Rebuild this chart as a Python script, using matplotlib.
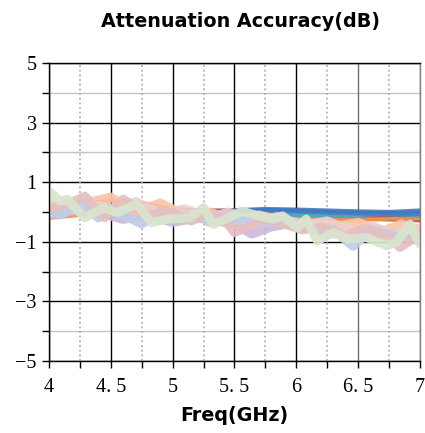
import matplotlib.pyplot as plt
from matplotlib.ticker import MultipleLocator, FixedLocator

# frequency grid shared by the narrow traces (GHz)
freq = [4.0, 4.25, 4.5, 4.75, 5.0, 5.25, 5.5, 5.75, 6.0, 6.25, 6.5, 6.75, 7.0]

# narrow traces, attenuation error in dB
thin_red = [-0.2, 0.25, 0.4, 0.3, 0.1, 0.05, 0.05, 0.05, 0.02, -0.05, -0.1, -0.1, -0.05]
thin_blue = [-0.05, 0.05, 0.1, 0.0, 0.0, 0.0, 0.06, 0.1, 0.08, 0.05, 0.02, 0.0, 0.05]
thin_orange = [-0.2, -0.1, -0.05, -0.1, -0.1, -0.15, -0.15, -0.2, -0.22, -0.25, -0.28, -0.22, -0.2]
thin_green = [0.0, 0.05, 0.0, -0.05, -0.1, -0.1, -0.1, -0.05, -0.1, -0.12, -0.15, -0.1, -0.12]
thin_purple = [-0.1, 0.0, 0.05, -0.05, -0.1, -0.05, -0.1, -0.12, -0.15, -0.18, -0.2, -0.22, -0.15]
thin_cyan = [0.05, 0.1, 0.15, 0.05, 0.0, -0.05, 0.0, 0.0, -0.05, -0.08, -0.1, -0.05, -0.05]
thin_steel = [0.0, 0.1, 0.15, 0.1, 0.05, 0.02, 0.0, 0.05, 0.02, -0.02, -0.05, -0.08, -0.08]
thin_olive = [-0.1, -0.05, 0.0, -0.05, -0.05, -0.1, -0.05, -0.08, -0.12, -0.1, -0.12, -0.15, -0.12]
thin_navy = [0.1, 0.15, 0.2, 0.1, 0.02, 0.0, 0.03, 0.07, 0.04, 0.0, -0.03, -0.05, -0.02]
thin_brown = [-0.15, -0.05, 0.1, 0.0, -0.05, -0.08, -0.08, -0.12, -0.15, -0.2, -0.22, -0.25, -0.28]

# wide traces, each with its own sample points
lav_f = [4.0, 4.3, 4.6, 4.8, 5.0, 5.2, 5.5, 5.64, 5.8, 6.0, 6.2, 6.5, 6.8, 7.0]
lav_v = [-0.1, 0.1, -0.25, -0.1, -0.35, -0.2, -0.4, -0.74, -0.5, -0.35, -0.7, -0.8, -0.7, -0.9]

peach_f = [4.0, 4.3, 4.5, 4.7, 4.9, 5.1, 5.3, 5.5, 5.7, 5.9, 6.1, 6.3, 6.5, 6.7, 6.85, 7.0]
peach_v = [0.2, 0.3, 0.5, 0.0, 0.3, -0.1, 0.0, -0.3, -0.1, -0.3, -0.4, -0.5, -0.35, -0.65, -0.4, -0.6]

blue_f = [4.0, 4.1, 4.25, 4.4, 4.5, 4.75, 4.9, 5.0, 5.2, 5.3, 5.5, 5.7, 5.9, 6.1, 6.3,
          6.46, 6.6, 6.8, 7.0]
blue_v = [0.0, -0.1, 0.35, -0.2, 0.1, -0.4, 0.0, -0.25, -0.1, -0.35, -0.2, -0.4, -0.3,
          -0.55, -0.6, -1.15, -0.6, -0.8, -0.97]

pink_f = [4.0, 4.2, 4.29, 4.45, 4.6, 4.8, 5.0, 5.15, 5.3, 5.4, 5.5, 5.75, 5.9, 6.05,
          6.2, 6.4, 6.55, 6.75, 6.84, 7.0]
pink_v = [0.1, 0.35, 0.53, -0.19, 0.43, -0.1, 0.0, -0.3, -0.05, -0.15, -0.69, -0.25, -0.4,
          -0.6, -0.5, -0.8, -0.55, -0.85, -1.19, -0.75]

rose_f = [4.0, 4.15, 4.35, 4.55, 4.7, 4.9, 5.1, 5.3, 5.45, 5.65, 5.85, 6.05, 6.25, 6.45,
          6.6, 6.8, 7.0]
rose_v = [0.3, 0.05, 0.25, 0.1, 0.35, -0.05, 0.1, -0.2, 0.0, -0.35, -0.15, -0.45, -0.3,
          -0.65, -0.45, -0.75, -0.55]

sage_f = [4.0, 4.09, 4.15, 4.29, 4.44, 4.55, 4.71, 4.83, 4.95, 5.14, 5.25, 5.33, 5.46,
          5.56, 5.65, 5.81, 5.89, 6.01, 6.08, 6.17, 6.3, 6.42, 6.57, 6.73, 6.81, 6.92, 7.0]
sage_v = [0.7, 0.37, 0.42, -0.19, 0.14, -0.02, 0.26, -0.36, -0.24, -0.19, 0.14, -0.41,
          -0.19, 0.03, -0.08, -0.24, -0.13, -0.52, -0.24, -0.97, -0.69, -0.91, -0.86,
          -1.13, -1.02, -0.41, -1.08]

xtick_vals = [4, 4.5, 5, 5.5, 6, 6.5, 7]
xtick_text = ['4', '4. 5', '5', '5. 5', '6', '6. 5', '7']
ytick_vals = [-5, -3, -1, 1, 3, 5]
ytick_text = ['\u22125', '\u22123', '\u22121', '1', '3', '5']

fig = plt.figure(figsize=(4.25, 4.33), dpi=100)
ax = fig.add_axes([0.1153, 0.1663, 0.8727, 0.6882])

# grid: black every 2 dB / 0.5 GHz, lighter in between
for v in range(-5, 6):
    ax.axhline(v, color='black' if v % 2 else '#c4c4c4', lw=1.0, zorder=1)
for i in range(13):
    f = 4 + 0.25 * i
    if i % 2 == 0:
        ax.axvline(f, color='#6e6e6e' if f >= 6.5 else 'black', lw=1.0, zorder=1)
    else:
        ax.axvline(f, color='#b0b0b0', lw=1.2, ls=(0, (1.2, 1.6)), zorder=1)

thin = [(thin_brown, '#c0504d'), (thin_olive, '#9bbb59'), (thin_purple, '#8064a2'),
        (thin_orange, '#f79646'), (thin_green, '#4bacc6'), (thin_red, '#c0504d'),
        (thin_cyan, '#4bacc6'), (thin_steel, '#4f81bd'), (thin_navy, '#4a7ebb'),
        (thin_blue, '#3d78c0')]
for vals, c in thin:
    ax.plot(freq, vals, color=c, lw=3, alpha=0.9, zorder=2)

wide = [(lav_f, lav_v, '#cbbcdc'), (peach_f, peach_v, '#fbc5a8'),
        (rose_f, rose_v, '#f0cfcb'), (blue_f, blue_v, '#c0cde8'),
        (pink_f, pink_v, '#e6c0c0'), (sage_f, sage_v, '#d9e5cf')]
for fx, fy, c in wide:
    ax.plot(fx, fy, color=c, lw=6.5, alpha=0.92, solid_joinstyle='round',
            solid_capstyle='round', zorder=3)

ax.set_xlim(4, 7)
ax.set_ylim(-5, 5)
ax.xaxis.set_major_locator(FixedLocator(xtick_vals))
ax.set_xticklabels(xtick_text)
ax.xaxis.set_minor_locator(MultipleLocator(0.25))
ax.yaxis.set_major_locator(FixedLocator(ytick_vals))
ax.set_yticklabels(ytick_text)
ax.yaxis.set_minor_locator(MultipleLocator(1))
ax.tick_params(which='both', direction='out', length=5, width=1, color='black',
               labelsize=14.5, pad=4)
ax.tick_params(axis='x', which='major', pad=7)
for lab in ax.get_xticklabels() + ax.get_yticklabels():
    lab.set_family('Liberation Serif')

for s in ax.spines.values():
    s.set_color('black')
    s.set_linewidth(1.0)
    s.set_zorder(4)
ax.spines['right'].set_color('#808080')

ax.set_title('Attenuation Accuracy(dB)', fontsize=13.8, fontweight='bold',
             family='DejaVu Sans', pad=26, x=0.515)
ax.set_xlabel('Freq(GHz)', fontsize=13.8, fontweight='bold', family='DejaVu Sans',
              labelpad=7)

fig.savefig('out.png', dpi=100)
